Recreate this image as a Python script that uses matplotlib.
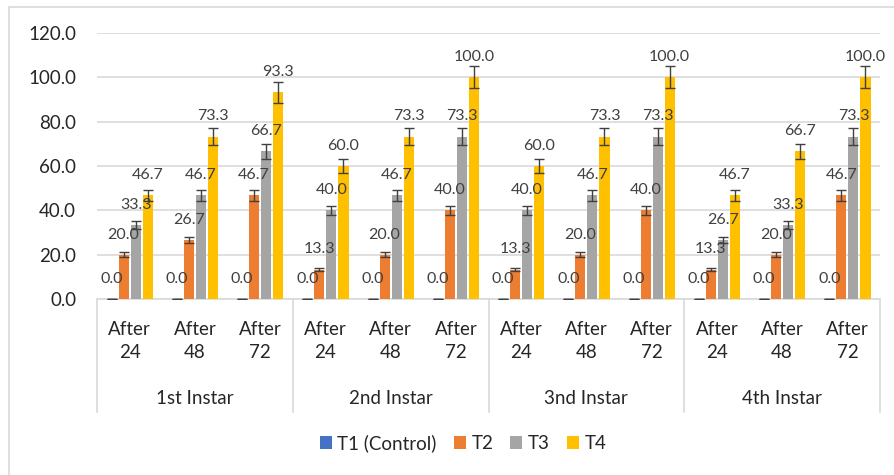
import numpy as np
import matplotlib
matplotlib.use("Agg")
import matplotlib.pyplot as plt
from matplotlib.patches import Rectangle
from matplotlib.lines import Line2D
from matplotlib.transforms import blended_transform_factory

plt.rcParams['font.family'] = ['Lato', 'DejaVu Sans']

instars = ["1st Instar", "2nd Instar", "3nd Instar", "4th Instar"]
times = ["After\n24", "After\n48", "After\n72"]
series = ["T1 (Control)", "T2", "T3", "T4"]
colors = ["#4472C4", "#ED7D31", "#A5A5A5", "#FFC000"]

t1 = [0.0, 0.0, 0.0, 0.0, 0.0, 0.0, 0.0, 0.0, 0.0, 0.0, 0.0, 0.0]
t2 = [20.0, 26.7, 46.7, 13.3, 20.0, 40.0, 13.3, 20.0, 40.0, 13.3, 20.0, 46.7]
t3 = [33.3, 46.7, 66.7, 40.0, 46.7, 73.3, 40.0, 46.7, 73.3, 26.7, 33.3, 73.3]
t4 = [46.7, 73.3, 93.3, 60.0, 73.3, 100.0, 60.0, 73.3, 100.0, 46.7, 66.7, 100.0]
values = [t1, t2, t3, t4]
err_pct = 0.05

W, H = 895, 475
fig = plt.figure(figsize=(W / 100, H / 100), dpi=100)
fig.patch.set_facecolor("white")

# outer chart frame
fig.add_artist(Rectangle((9 / W, -0.1), 1.2, 1 - 7 / H + 0.1,
                         transform=fig.transFigure, fill=False,
                         edgecolor="#d9d9d9", linewidth=1.2))

left, right, top, bottom = 97, 880, 33, 299
ax = fig.add_axes([left / W, 1 - bottom / H, (right - left) / W, (bottom - top) / H])

n = len(t1)
x = np.arange(n)
bw = 0.155
step = 0.185
label_col = "#404040"
text_col = "#262626"

for i, (name, vals, c) in enumerate(zip(series, values, colors)):
    vals = np.array(vals)
    pos = x + (i - 1.5) * step
    ax.bar(pos, vals, width=bw, color=c, label=name, zorder=3)
    ax.errorbar(pos, vals, yerr=vals * err_pct, fmt="none", ecolor="#404040",
                elinewidth=1, capsize=3.5, capthick=1, zorder=4)
    if i == 0:
        ax.plot(pos, vals, linestyle="none", marker="_", markersize=6,
                color="#404040", zorder=4)
    for p, v in zip(pos, vals):
        ax.annotate(f"{v:.1f}", (p, v), xytext=(0, 14.5), textcoords="offset points",
                    ha="center", va="center", fontsize=11.5, color=label_col, zorder=5)

ax.set_xlim(-0.5, n - 0.5)
ax.set_ylim(0, 120)
ax.set_yticks(np.arange(0, 121, 20))
ax.set_yticklabels([f"{v:.1f}" for v in np.arange(0, 121, 20)], fontsize=13.5, color=text_col)
ax.tick_params(axis="y", length=0, pad=15)
ax.set_xticks([])
ax.yaxis.grid(True, color="#d9d9d9", linewidth=1.2, zorder=0)
ax.set_axisbelow(True)
for s in ax.spines.values():
    s.set_visible(False)
ax.axhline(0, color="#d9d9d9", linewidth=1.2, zorder=2, clip_on=False)

# multi-level category axis
tr = blended_transform_factory(ax.transData, fig.transFigure)
y_sep_top = 1 - 300 / H
y_sep_bot = 1 - 412 / H
for g in range(len(instars) + 1):
    xb = g * 3 - 0.5
    fig.add_artist(Line2D([xb, xb], [y_sep_top, y_sep_bot], transform=tr,
                          color="#d9d9d9", linewidth=1.2))
for k in range(n):
    ax.text(k, 1 - 341 / H, times[k % 3], transform=tr, ha="center", va="center",
            fontsize=13.5, color=text_col, linespacing=1.4)
for g, name in enumerate(instars):
    ax.text(g * 3 + 1, 1 - 398 / H, name, transform=tr, ha="center", va="center",
            fontsize=13.5, color=text_col)

fig.legend(loc="center", bbox_to_anchor=(463 / W, 1 - 443 / H), ncol=4, frameon=False,
           fontsize=13.5, handlelength=0.65, handleheight=0.65, handletextpad=0.3,
           columnspacing=0.9, labelcolor=text_col)

fig.savefig("out.png", dpi=100, facecolor="white")
